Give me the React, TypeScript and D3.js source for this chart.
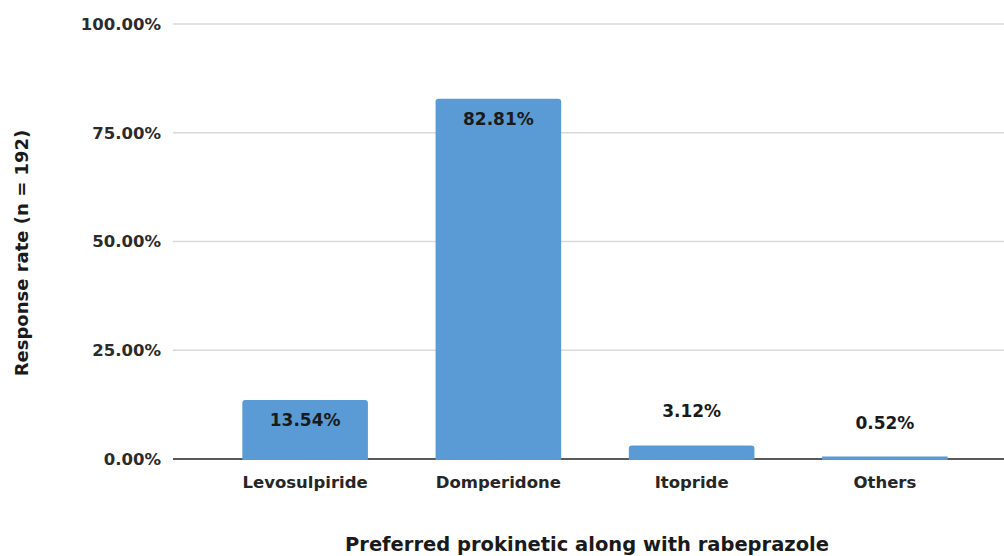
import * as d3 from "d3";

const categories = ["Levosulpiride", "Domperidone", "Itopride", "Others"];
const values = [13.54, 82.81, 3.12, 0.52];
const valueLabels = ["13.54%", "82.81%", "3.12%", "0.52%"];
const yTicks = [0, 25, 50, 75, 100];
const yTickLabels = ["0.00%", "25.00%", "50.00%", "75.00%", "100.00%"];

const width = 1004;
const height = 556;
const font = "'DejaVu Sans', 'Open Sans', sans-serif";

export default function App() {
    const x = d3.scaleBand<string>()
        .domain(categories)
        .range([208.5, 981.5])
        .paddingInner(0.35)
        .paddingOuter(0.175);
    const y = d3.scaleLinear()
        .domain([0, 100])
        .range([459, 24]);
    const gridLeft = 173;

    return <svg width={width} height={height} style={{position: "absolute", left: 0, top: 0, background: "#fff"}} fontFamily={font}>
        {yTicks.map((t, i) => (
            <g key={t}>
                {t > 0 && <line x1={gridLeft} x2={width} y1={y(t)} y2={y(t)} stroke="#d9d9d9" strokeWidth={1.5}/>}
                <text x={161} y={y(t)} dy="0.35em" textAnchor="end" fontSize={16.5} fontWeight={700} fill="#2b2b2b">{yTickLabels[i]}</text>
            </g>
        ))}
        {/* baseline goes under the bars, like the original */}
        <line x1={gridLeft} x2={width} y1={y(0)} y2={y(0)} stroke="#595959" strokeWidth={2}/>
        {categories.map((c, i) => {
            const bx = x(c) ?? 0;
            const by = Math.min(y(values[i]), y(0) - 2.5);
            const h = y(0) + 1 - by;
            const inside = h > 40;
            const bottom = y(0) + 1;
            return <g key={c}>
                <path
                    d={h > 5
                        ? `M${bx},${bottom}V${by + 3}Q${bx},${by} ${bx + 3},${by}H${bx + x.bandwidth() - 3}Q${bx + x.bandwidth()},${by} ${bx + x.bandwidth()},${by + 3}V${bottom}Z`
                        : `M${bx},${bottom}V${by}H${bx + x.bandwidth()}V${bottom}Z`}
                    fill="#5b9bd5"
                />
                <text
                    x={bx + x.bandwidth() / 2}
                    y={inside ? y(values[i]) + 20 : y(values[i]) - 34}
                    dy="0.35em"
                    textAnchor="middle"
                    fontSize={17}
                    fontWeight={700}
                    fill="#1a1a1a"
                >{valueLabels[i]}</text>
                <text
                    x={bx + x.bandwidth() / 2}
                    y={482}
                    dy="0.35em"
                    textAnchor="middle"
                    fontSize={16.5}
                    fontWeight={700}
                    fill="#262626"
                >{c}</text>
            </g>;
        })}
        <text
            transform={`translate(22,253) rotate(-90)`}
            dy="0.35em"
            textAnchor="middle"
            fontSize={18}
            fontWeight={700}
            fill="#1a1a1a"
        >Response rate (n = 192)</text>
        <text
            x={587}
            y={544}
            dy="0.35em"
            textAnchor="middle"
            fontSize={19.5}
            fontWeight={700}
            fill="#1a1a1a"
        >Preferred prokinetic along with rabeprazole</text>
    </svg>;
}
